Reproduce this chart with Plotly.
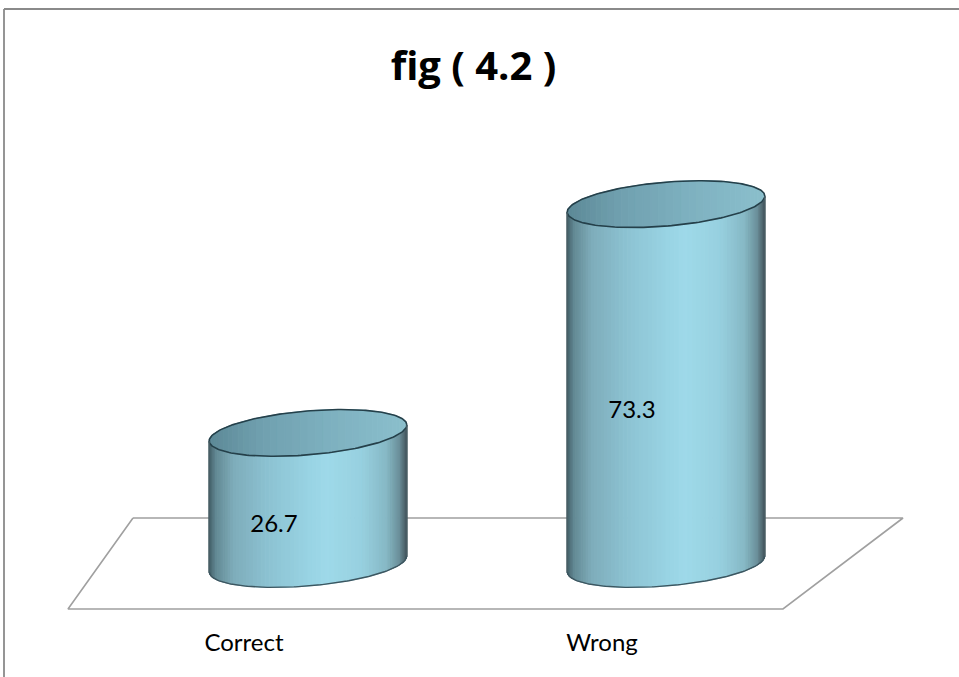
import numpy as np
import plotly.graph_objects as go

# ---------------- data ----------------
categories = ["Correct", "Wrong"]
values = [26.7, 73.3]
title_text = "fig ( 4.2 )"

# ---------------- geometry / style constants ----------------
W, H = 959, 677
X0_PX, PX_PER_CAT = 308.0, 358.0      # pixel of first category centre, px per category
BASE_PX, PX_PER_VAL = 564.0, 4.91     # pixel of value 0, px per value unit

A = 0.276                 # cylinder half width (category units)
B = 22.0 / PX_PER_VAL     # ellipse half depth (value units)
K = 8.0 / PX_PER_VAL      # ellipse tilt (value units)

side_stops = [(-1.0, "#3f5a62"), (-0.93, "#628893"), (-0.75, "#7eacba"), (-0.4, "#8cc2d2"),
              (0.0, "#98d3e3"), (0.2, "#9ed9e9"), (0.55, "#97d0df"), (0.8, "#86b8c5"),
              (0.93, "#6a8e98"), (1.0, "#44575e")]
top_stops = [(-1.0, "#5c8896"), (-0.5, "#6f9fae"), (0.2, "#7db0bf"), (1.0, "#8bbfcc")]


def hex2rgb(h):
    h = h.lstrip("#")
    return np.array([int(h[i:i + 2], 16) for i in (0, 2, 4)], dtype=float)


def interp_color(stops, u):
    us = [s[0] for s in stops]
    cs = [hex2rgb(s[1]) for s in stops]
    for i in range(len(us) - 1):
        if us[i] <= u <= us[i + 1]:
            f = (u - us[i]) / (us[i + 1] - us[i])
            c = cs[i] * (1 - f) + cs[i + 1] * f
            return "rgb(%d,%d,%d)" % tuple(np.round(c))
    c = cs[0] if u < us[0] else cs[-1]
    return "rgb(%d,%d,%d)" % tuple(np.round(c))


def px_x(p):
    return (p - X0_PX) / PX_PER_CAT


def px_y(p):
    return (BASE_PX - p) / PX_PER_VAL


# axis ranges so that the data scale maps onto the pixel layout
x_range = [px_x(0), px_x(W)]
y_range = [px_y(H), px_y(0)]

fig = go.Figure()

# ---------------- floor (perspective plane) ----------------
floor_px = [(133, 518), (903, 518), (783, 609), (68, 609), (133, 518)]
fig.add_trace(go.Scatter(x=[px_x(p[0]) for p in floor_px], y=[px_y(p[1]) for p in floor_px],
                         mode="lines", line=dict(color="#a0a0a0", width=1.6),
                         hoverinfo="skip", showlegend=False))


def front(u, c):
    return c + K * u - B * np.sqrt(np.clip(1 - u ** 2, 0, 1))


def back(u, c):
    return c + K * u + B * np.sqrt(np.clip(1 - u ** 2, 0, 1))


N_SIDE = 70
N_TOP = 40
for i, (cat, v) in enumerate(zip(categories, values)):
    cx = float(i)
    # side strips
    us = np.sin(np.linspace(-np.pi / 2, np.pi / 2, N_SIDE + 1))
    for j in range(N_SIDE):
        u0, u1 = us[j], us[j + 1]
        uu = np.linspace(u0, u1, 4)
        xs = np.concatenate([cx + A * uu, cx + A * uu[::-1]])
        ys = np.concatenate([front(uu, v), front(uu[::-1], 0.0)])
        col = interp_color(side_stops, 0.5 * (u0 + u1))
        fig.add_trace(go.Scatter(x=np.append(xs, xs[0]), y=np.append(ys, ys[0]), mode="lines",
                                 fill="toself", fillcolor=col, line=dict(color=col, width=1),
                                 hoverinfo="skip", showlegend=False))
    # top face strips
    us = np.sin(np.linspace(-np.pi / 2, np.pi / 2, N_TOP + 1))
    for j in range(N_TOP):
        u0, u1 = us[j], us[j + 1]
        uu = np.linspace(u0, u1, 4)
        xs = np.concatenate([cx + A * uu, cx + A * uu[::-1]])
        ys = np.concatenate([front(uu, v), back(uu[::-1], v)])
        col = interp_color(top_stops, 0.5 * (u0 + u1))
        fig.add_trace(go.Scatter(x=np.append(xs, xs[0]), y=np.append(ys, ys[0]), mode="lines",
                                 fill="toself", fillcolor=col, line=dict(color=col, width=1),
                                 hoverinfo="skip", showlegend=False))
    # outlines
    t = np.linspace(0, 2 * np.pi, 200)
    fig.add_trace(go.Scatter(x=cx + A * np.cos(t), y=v + K * np.cos(t) + B * np.sin(t), mode="lines",
                             line=dict(color="#25404a", width=1.6), hoverinfo="skip", showlegend=False))
    ub = np.linspace(-1, 1, 120)
    fig.add_trace(go.Scatter(x=cx + A * ub, y=front(ub, 0.0), mode="lines",
                             line=dict(color="#3c5660", width=1.4), hoverinfo="skip", showlegend=False))
    for s in (-1, 1):
        fig.add_trace(go.Scatter(x=[cx + A * s, cx + A * s], y=[K * s, v + K * s], mode="lines",
                                 line=dict(color="#4a5e65", width=1.2), hoverinfo="skip",
                                 showlegend=False))

# ---------------- labels ----------------
label_dx = -34.0 / PX_PER_CAT
label_dy = -28.0 / PX_PER_VAL
fig.add_trace(go.Scatter(
    x=[i + label_dx for i in range(len(categories))],
    y=[v / 2 + label_dy for v in values],
    mode="text", text=[f"{v:.1f}" for v in values],
    textfont=dict(family="Lato", size=24, color="#000000"),
    hoverinfo="skip", showlegend=False))

cat_dx = -64.0 / PX_PER_CAT
cat_y = px_y(645.0)
fig.add_trace(go.Scatter(
    x=[i + cat_dx for i in range(len(categories))],
    y=[cat_y] * len(categories),
    mode="text", text=categories,
    textfont=dict(family="Lato", size=24, color="#000000"),
    hoverinfo="skip", showlegend=False))

fig.update_layout(
    width=W, height=H,
    margin=dict(l=0, r=0, t=0, b=0),
    paper_bgcolor="white", plot_bgcolor="white",
    xaxis=dict(range=x_range, visible=False, fixedrange=True),
    yaxis=dict(range=y_range, visible=False, fixedrange=True),
    title=dict(text="<b>" + title_text + "</b>", x=473.5 / W, xanchor="center",
               y=1 - 66 / H, yanchor="middle",
               font=dict(family="Open Sans", size=40, color="#000000")),
    shapes=[
        dict(type="line", xref="paper", yref="paper", x0=4 / W, x1=1, y0=1 - 9 / H, y1=1 - 9 / H,
             line=dict(color="#8a8a8a", width=1.8)),
        dict(type="line", xref="paper", yref="paper", x0=4 / W, x1=4 / W, y0=0, y1=1 - 9 / H,
             line=dict(color="#8a8a8a", width=1.8)),
    ],
    showlegend=False,
)

fig.write_html("out.html", config={"displayModeBar": False},
               post_script="document.body.style.margin='0px';")
